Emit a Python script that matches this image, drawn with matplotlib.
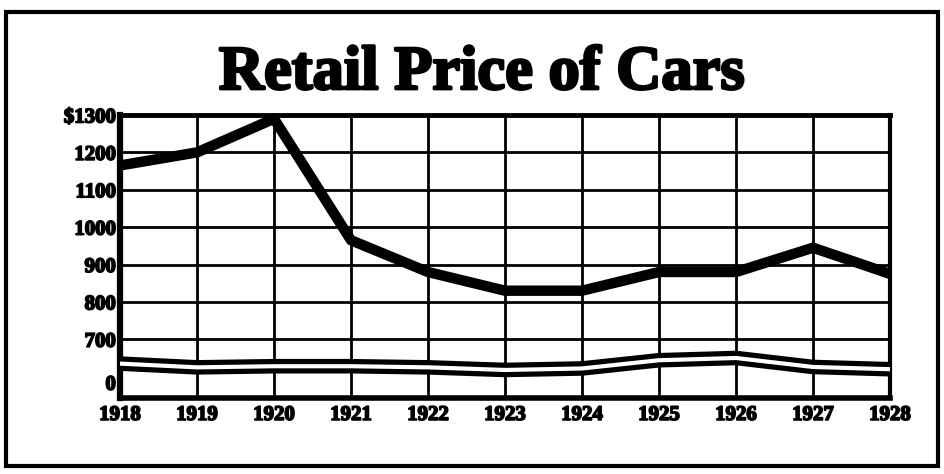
import matplotlib
matplotlib.use('Agg')
import matplotlib.pyplot as plt
import matplotlib.patheffects as pe
from matplotlib.patches import Rectangle

# data
years = [1918, 1919, 1920, 1921, 1922, 1923, 1924, 1925, 1926, 1927, 1928]
prices = [1165, 1200, 1290, 965, 880, 830, 830, 880, 880, 945, 875]
y_ticks = [700, 800, 900, 1000, 1100, 1200, 1300]
y_tick_labels = ['700', '800', '900', '1000', '1100', '1200', '$1300']
# wavy "broken scale" band near the bottom of the grid
break_wave = [635, 625, 628, 628, 625, 618, 622, 644, 650, 626, 620]

heavy = [pe.withStroke(linewidth=1.2, foreground='black')]

fig = plt.figure(figsize=(9.44, 4.74), dpi=100)
fig.patch.set_facecolor('white')

# outer frame of the clipping
fig.patches.append(Rectangle((6 / 944, 8 / 474), 932 / 944, 454 / 474,
                             transform=fig.transFigure, fill=False,
                             edgecolor='black', linewidth=3))

ax = fig.add_axes([120 / 944, 76 / 474, 770 / 944, 283 / 474])
ax.set_xlim(years[0], years[-1])
ax.set_ylim(543, 1300)

# grid
for yv in y_ticks:
    ax.axhline(yv, color='black', linewidth=2, zorder=1)
for xv in years:
    ax.axvline(xv, color='black', linewidth=2, zorder=1)

# broken-scale band
ax.plot(years, break_wave, color='black', linewidth=10.5, zorder=2,
        solid_capstyle='butt', solid_joinstyle='round')
ax.plot(years, break_wave, color='white', linewidth=3, zorder=3,
        solid_capstyle='butt', solid_joinstyle='round')

# price line
ax.plot(years, prices, color='black', linewidth=7.5, zorder=4,
        solid_joinstyle='round', solid_capstyle='butt', clip_on=False)

ax.set_xticks(years)
ax.set_xticklabels([str(y) for y in years])
ax.set_yticks(y_ticks)
ax.set_yticklabels(y_tick_labels)
ax.set_yticks([585], minor=True)
ax.set_yticklabels(['0'], minor=True)
ax.tick_params(axis='both', which='both', length=0)
ax.tick_params(axis='x', pad=5)
ax.tick_params(axis='y', which='both', pad=3)
for lab in ax.get_xticklabels() + ax.get_yticklabels() + ax.get_yticklabels(minor=True):
    lab.set_fontfamily('Liberation Serif')
    lab.set_fontweight('bold')
    lab.set_fontsize(15)
    lab.set_path_effects(heavy)

for side, lw in [('left', 4.5), ('top', 3.5), ('bottom', 4), ('right', 3)]:
    ax.spines[side].set_linewidth(lw)
    ax.spines[side].set_color('black')

fig.text(482 / 944, 1 - 74 / 474, 'Retail Price of Cars', ha='center', va='center',
         fontfamily='Liberation Serif', fontweight='bold', fontsize=45,
         path_effects=[pe.withStroke(linewidth=2, foreground='black')])

fig.savefig('out.png', dpi=100, facecolor='white')
